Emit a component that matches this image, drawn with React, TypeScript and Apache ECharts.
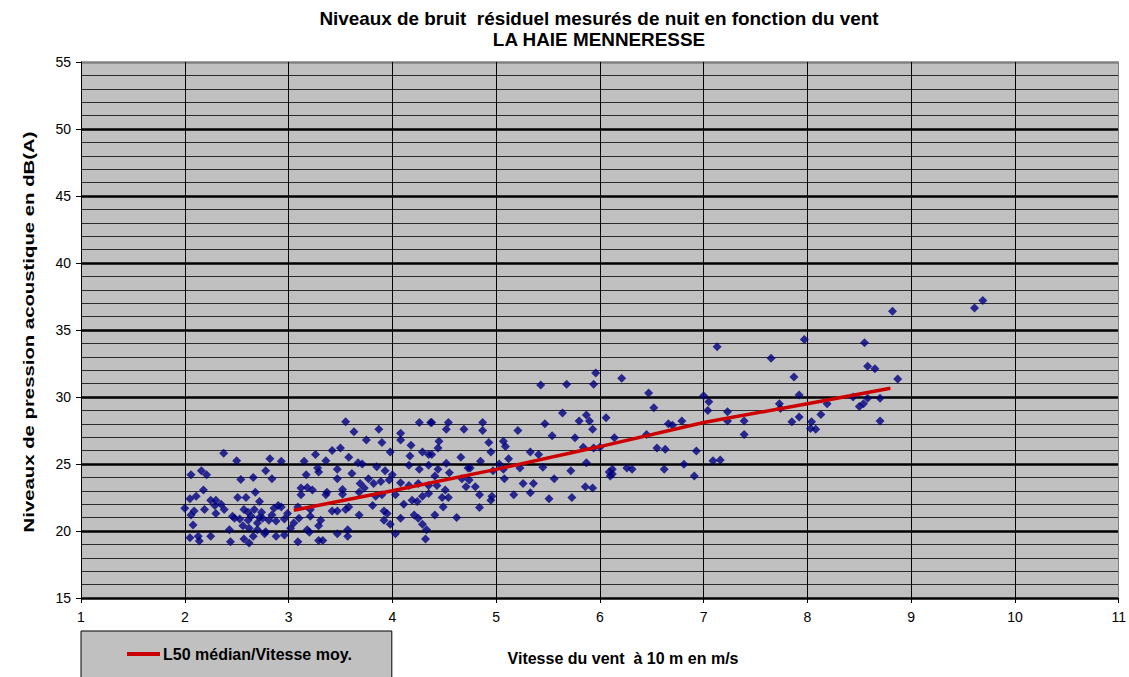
import React, { useEffect, useRef } from "react";
import * as echarts from "echarts";

const titleLine1 = "Niveaux de bruit  résiduel mesurés de nuit en fonction du vent";
const titleLine2 = "LA HAIE MENNERESSE";
const yAxisName = "Niveaux de pression acoustique en dB(A)";
const xAxisName = "Vitesse du vent  à 10 m en m/s";
const lineName = "L50 médian/Vitesse moy.";

// scatter measurements: [wind speed m/s, level dB(A)]
const scatterPoints: number[][] = [
  // 2 - 3 m/s
  [2.375, 25.8], [2.5, 25.25], [2.82, 25.4], [2.93, 25.2], [2.06, 24.2], [2.16, 24.5], [2.21, 24.2],
  [2.78, 24.5], [2.54, 23.85], [2.66, 24.0], [2.84, 23.9], [2.18, 23.06], [2.68, 22.9], [2.05, 22.4],
  [2.11, 22.6], [2.25, 22.3], [2.3, 22.3], [2.51, 22.5], [2.59, 22.5], [2.72, 22.2], [2.0, 21.7],
  [2.09, 21.5], [2.19, 21.6], [2.29, 21.9], [2.3, 21.3], [2.38, 21.6], [2.57, 21.6], [2.61, 21.4],
  [2.67, 21.6], [2.74, 21.4], [2.86, 21.7], [2.93, 21.8], [2.99, 21.3], [2.06, 21.2], [2.48, 20.95],
  [2.53, 20.9], [2.61, 20.8], [2.75, 20.95], [2.81, 20.8], [2.88, 20.75], [2.96, 20.9], [2.08, 20.45],
  [2.43, 20.1], [2.62, 20.2], [2.7, 20.1], [2.78, 19.95], [3.02, 20.2], [2.05, 19.5], [2.13, 19.6],
  [2.14, 19.25], [2.25, 19.6], [2.44, 19.2], [2.57, 19.4], [2.62, 19.1], [2.77, 19.8], [2.88, 19.6],
  [2.96, 19.7], [2.64, 21.1], [2.7, 20.6], [2.84, 21.2], [2.56, 20.4], [2.35, 22.0], [2.46, 21.1],
  [2.66, 19.6], [2.72, 21.0], [2.9, 21.9],
  // 3 - 4.4 m/s
  [3.55, 28.16], [3.63, 27.4], [3.87, 27.6], [3.75, 26.8], [3.9, 26.6], [4.08, 27.3], [4.08, 26.8],
  [4.26, 28.1], [4.37, 28.1], [4.18, 26.4], [3.98, 25.9], [3.5, 26.2], [3.42, 26.0], [3.26, 25.7],
  [3.36, 25.25], [3.58, 25.5], [3.15, 25.2], [3.67, 25.1], [3.71, 25.0], [4.17, 25.6], [4.29, 25.9],
  [4.35, 25.7], [3.28, 24.7], [3.47, 24.6], [3.85, 24.8], [3.93, 24.5], [4.16, 24.9], [4.26, 24.6],
  [3.17, 24.2], [3.29, 24.4], [3.61, 24.3], [3.47, 23.9], [3.77, 23.9], [4.0, 24.2], [3.97, 23.8],
  [3.89, 23.7], [3.82, 23.55], [3.69, 23.55], [4.08, 23.6], [4.16, 23.4], [4.25, 23.55], [4.35, 23.4],
  [3.12, 23.2], [3.18, 23.25], [3.23, 23.06], [3.37, 22.9], [3.52, 23.1], [3.68, 22.9], [3.73, 23.2],
  [3.12, 22.7], [3.36, 22.7], [3.52, 22.75], [3.84, 22.6], [3.9, 22.7], [4.03, 22.7], [4.19, 22.3],
  [4.24, 22.2], [4.29, 22.6], [3.81, 21.9], [4.11, 22.0], [3.09, 21.8], [3.21, 21.6], [3.42, 21.5],
  [3.47, 21.5], [3.55, 21.6], [3.58, 21.8], [3.92, 21.5], [3.95, 21.3], [3.21, 21.1], [3.31, 20.8],
  [3.68, 21.2], [3.92, 20.8], [4.08, 20.95], [4.21, 21.2], [4.25, 20.95], [4.29, 20.5], [3.98, 20.5],
  [3.05, 20.6], [3.1, 20.95], [3.29, 20.4], [3.18, 20.1], [3.2, 19.9], [3.47, 19.8], [3.57, 20.1],
  [3.57, 19.6], [4.03, 19.8], [4.33, 20.1], [4.32, 19.4], [3.09, 19.2], [3.29, 19.3], [3.33, 19.3],
  // 4.3 - 5.7 m/s
  [5.43, 30.9], [5.64, 28.8], [4.38, 28.1], [4.54, 28.1], [4.52, 27.6], [4.69, 27.6], [4.87, 28.1],
  [4.87, 27.5], [5.21, 27.5], [5.47, 28.0], [5.54, 27.1], [4.45, 26.7], [4.44, 26.2], [4.93, 26.6],
  [5.07, 26.7], [5.09, 26.3], [4.95, 25.9], [5.33, 25.9], [5.41, 25.7], [4.38, 25.7], [4.66, 25.5],
  [5.12, 25.4], [4.85, 25.2], [4.52, 25.05], [5.03, 25.0], [4.35, 24.9], [4.44, 24.6], [4.73, 24.7],
  [4.75, 24.7], [5.07, 24.6], [5.23, 24.7], [5.45, 24.75], [4.55, 24.35], [4.97, 24.5], [4.67, 23.9],
  [4.74, 23.8], [4.41, 24.1], [5.08, 23.9], [5.56, 23.9], [4.43, 23.4], [4.71, 23.3], [4.8, 23.3],
  [5.26, 23.55], [5.36, 23.55], [5.33, 22.85], [4.51, 23.06], [4.48, 22.5], [4.54, 22.5], [4.84, 22.7],
  [4.96, 22.6], [5.17, 22.7], [5.51, 22.4], [4.35, 22.8], [4.95, 22.3], [4.49, 21.8], [4.84, 21.75],
  [4.62, 21.0], [4.41, 21.2],
  // 5.5 - 7 m/s
  [5.96, 31.8], [6.21, 31.4], [5.68, 30.95], [5.94, 30.95], [6.47, 30.3], [7.0, 30.1], [7.05, 29.65],
  [6.52, 29.2], [7.04, 29.0], [5.87, 28.65], [6.06, 28.45], [5.8, 28.2], [5.9, 28.2], [5.93, 27.6],
  [6.66, 28.0], [6.7, 27.9], [6.79, 28.2], [5.76, 26.96], [6.14, 26.96], [6.45, 27.2], [5.84, 26.25],
  [5.94, 26.2], [6.0, 26.25], [6.55, 26.2], [6.63, 26.1], [6.93, 25.97], [5.87, 25.1], [5.72, 24.5],
  [6.12, 24.6], [6.12, 24.25], [6.26, 24.7], [6.31, 24.6], [6.62, 24.6], [6.81, 24.98], [6.91, 24.1],
  [6.09, 24.4], [6.1, 24.1], [5.73, 22.5], [5.86, 23.3], [5.93, 23.2],
  // 7 - 9.7 m/s
  [8.82, 36.4], [7.13, 33.75], [7.97, 34.3], [8.55, 34.05], [7.65, 32.9], [8.58, 32.3], [8.65, 32.1],
  [7.87, 31.5], [8.87, 31.35], [7.92, 30.15], [8.44, 30.0], [8.58, 29.9], [8.7, 29.9], [8.54, 29.5],
  [8.5, 29.3], [7.73, 29.5], [7.74, 29.15], [8.19, 29.5], [7.23, 28.9], [7.23, 28.2], [7.39, 28.2],
  [7.92, 28.5], [7.85, 28.15], [8.13, 28.7], [8.04, 28.15], [8.03, 27.65], [8.08, 27.6], [8.7, 28.2],
  [7.39, 27.2], [7.16, 25.3], [7.09, 25.25], [9.61, 36.65], [9.69, 37.2],
];

// median L50 per wind speed class
const lineSpeeds = [3.05, 4, 5, 6, 7, 8, 8.8];
const lineLevels = [21.55, 23.0, 24.6, 26.3, 28.1, 29.5, 30.65];

const xTicksMin = 1;
const xTicksMax = 11;
const yTicksMin = 15;
const yTicksMax = 55;

const FONT = "'Liberation Sans', Arial, sans-serif";

export default function App() {
  const ref = useRef<HTMLDivElement>(null);
  useEffect(() => {
    if (!ref.current) return;
    const chart = echarts.init(ref.current, undefined, { renderer: "svg" });
    const ySplitColors = ["#000", "#000", "#000", "#000", "#000", "#000", "#000", "#000", "#808080"];
    const xSplitColors = ["#000", "#000", "#000", "#000", "#000", "#000", "#000", "#000", "#000", "#000", "#808080"];
    chart.setOption({
      animation: false,
      backgroundColor: "#ffffff",
      textStyle: { fontFamily: FONT },
      grid: {
        left: 81,
        right: 6,
        top: 62,
        bottom: 79,
        show: true,
        backgroundColor: "#C0C0C0",
        borderWidth: 0,
      },
      graphic: [
        {
          type: "text",
          x: 599,
          y: 19,
          scaleX: 1.05,
          style: {
            text: titleLine1,
            fontFamily: FONT,
            fontSize: 18,
            fontWeight: "bold",
            fill: "#000",
            align: "center",
            verticalAlign: "middle",
          },
        },
        {
          type: "text",
          x: 599,
          y: 40,
          scaleX: 1.05,
          style: {
            text: titleLine2,
            fontFamily: FONT,
            fontSize: 18,
            fontWeight: "bold",
            fill: "#000",
            align: "center",
            verticalAlign: "middle",
          },
        },
        {
          type: "text",
          x: 29,
          y: 332,
          rotation: Math.PI / 2,
          scaleX: 1.355,
          style: {
            text: yAxisName,
            fontFamily: FONT,
            fontSize: 15,
            fontWeight: "bold",
            fill: "#000",
            align: "center",
            verticalAlign: "middle",
          },
        },
        {
          type: "text",
          x: 623,
          y: 658,
          style: {
            text: xAxisName,
            fontFamily: FONT,
            fontSize: 16,
            fontWeight: "bold",
            fill: "#000",
            align: "center",
            verticalAlign: "middle",
          },
        },
      ],
      legend: {
        data: [{ name: lineName, icon: "rect" }],
        left: 81,
        top: 631,
        orient: "horizontal",
        padding: [14, 40, 30, 46],
        backgroundColor: "#C0C0C0",
        borderColor: "#000",
        borderWidth: 1,
        itemWidth: 33,
        itemHeight: 4,
        itemGap: 0,
        textStyle: {
          fontFamily: FONT,
          fontSize: 16,
          fontWeight: "bold",
          color: "#000",
          lineHeight: 18,
          padding: [0, 0, 0, -2],
        },
      },
      xAxis: {
        type: "value",
        min: xTicksMin,
        max: xTicksMax,
        interval: 1,
        axisLine: { show: true, onZero: false, lineStyle: { color: "#000", width: 1 } },
        axisTick: { show: true, inside: false, length: 5, lineStyle: { color: "#000" } },
        axisLabel: { color: "#000", fontSize: 14, fontFamily: FONT, margin: 12 },
        splitLine: { show: true, lineStyle: { color: xSplitColors, width: 1 } },
      },
      yAxis: {
        type: "value",
        min: yTicksMin,
        max: yTicksMax,
        interval: 5,
        axisLine: { show: true, onZero: false, lineStyle: { color: "#000", width: 1 } },
        axisTick: { show: true, inside: false, length: 5, lineStyle: { color: "#000" } },
        axisLabel: { color: "#000", fontSize: 14, fontFamily: FONT, margin: 10 },
        minorTick: { show: false, splitNumber: 5 },
        minorSplitLine: { show: true, lineStyle: { color: "#2a2a2a", width: 1 } },
        splitLine: { show: true, lineStyle: { color: ySplitColors, width: 2.5 } },
      },
      series: [
        {
          name: "Mesures",
          type: "scatter",
          data: scatterPoints,
          symbol: "diamond",
          symbolSize: 9,
          itemStyle: { color: "#000080" },
          z: 3,
        },
        {
          name: lineName,
          type: "line",
          data: lineSpeeds.map((s, i) => [s, lineLevels[i]]),
          showSymbol: false,
          symbol: "none",
          lineStyle: { color: "#CC0000", width: 3.5 },
          itemStyle: { color: "#CC0000" },
          z: 4,
        },
      ],
    });
    return () => chart.dispose();
  }, []);
  return (
    <div
      ref={ref}
      style={{ position: "fixed", left: 0, top: 0, width: 1129, height: 677 }}
    />
  );
}
